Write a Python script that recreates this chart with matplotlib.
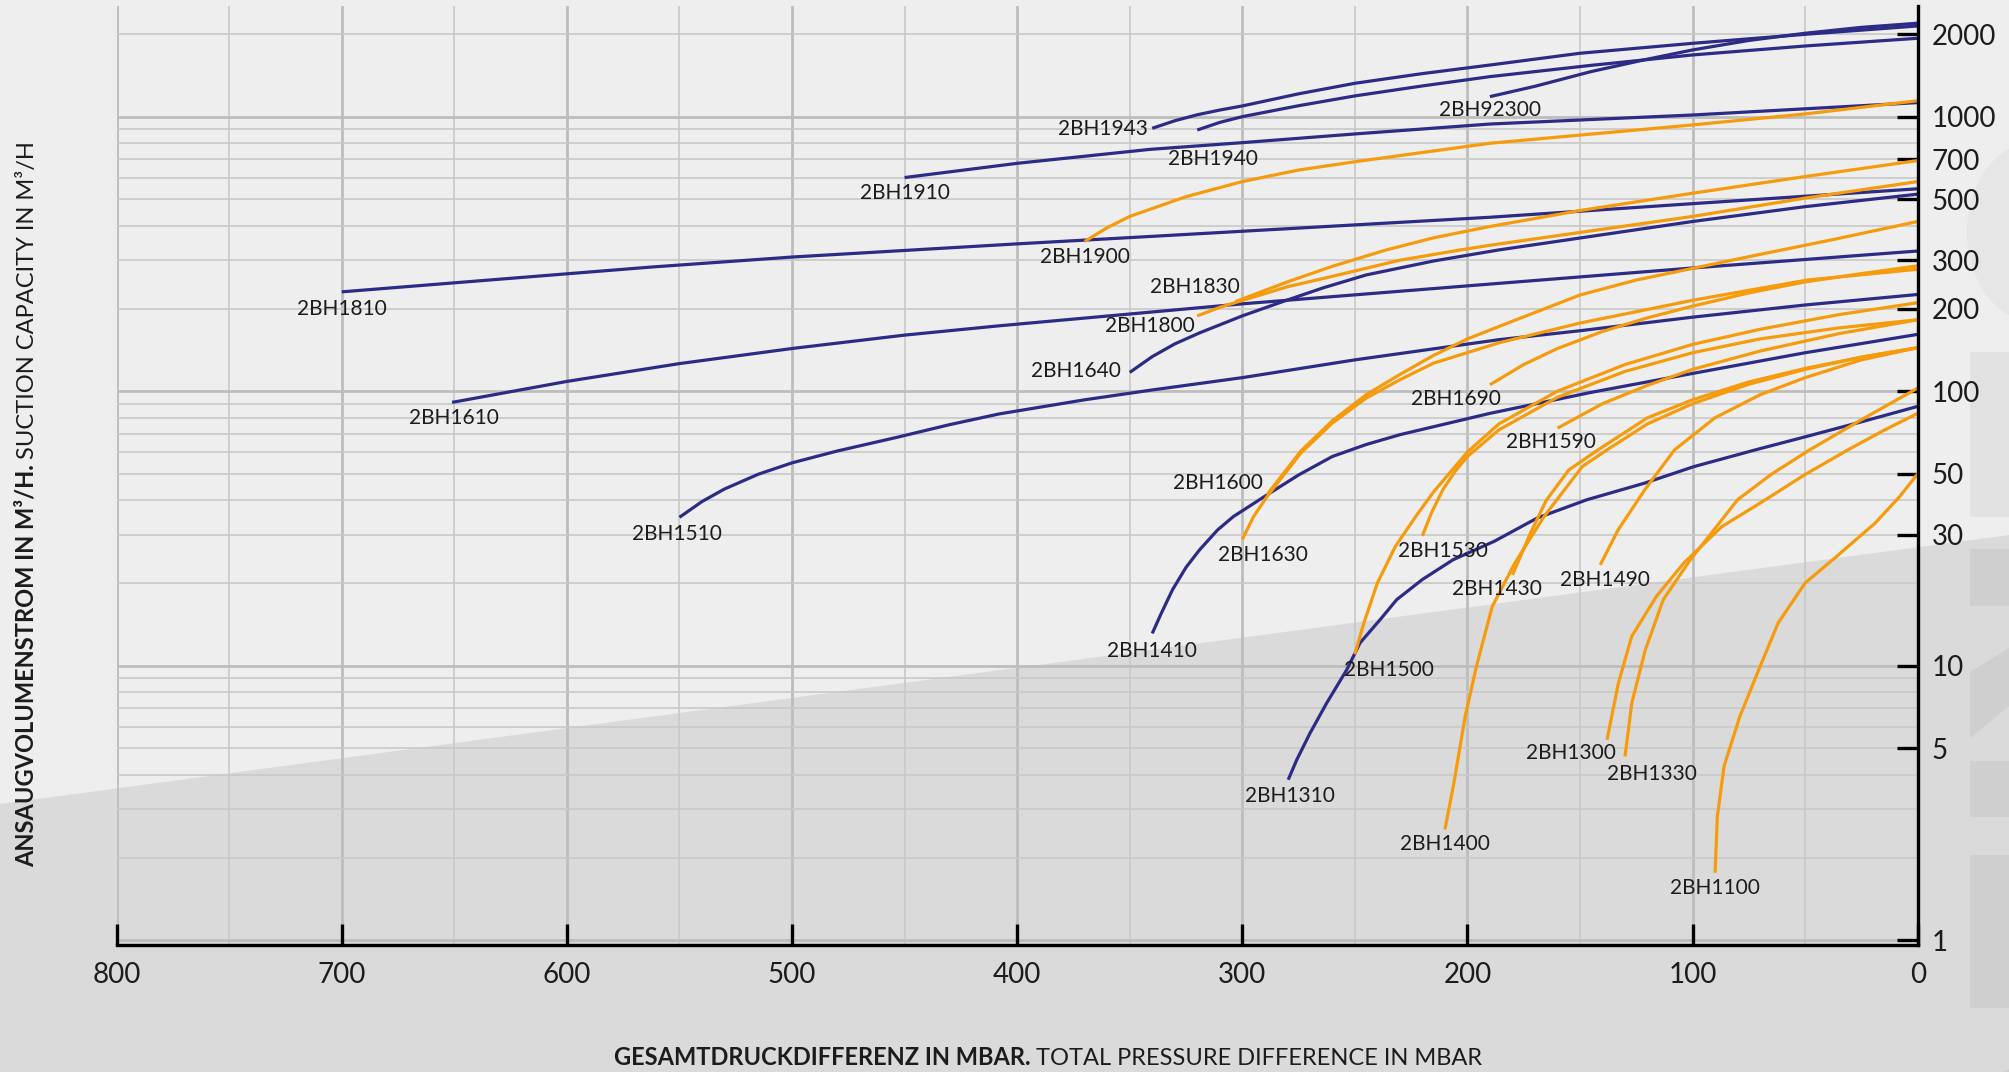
import matplotlib
matplotlib.use('Agg')
import matplotlib.pyplot as plt
from matplotlib.patches import Polygon, Rectangle, Ellipse, Circle

# ---------------- data (pressure difference in mbar, suction capacity m3/h) -------------
x_ticks = [800, 700, 600, 500, 400, 300, 200, 100, 0]
y_ticks = [1, 5, 10, 30, 50, 100, 200, 300, 500, 700, 1000, 2000]
y_tick_labels = ['1', '5', '10', '30', '50', '100', '200', '300', '500', '700', '1000', '2000']

# navy curves
BH92300_p = [190, 170, 145, 120, 100, 75, 50, 25, 0]
BH92300_q = [1183, 1290, 1460, 1620, 1750, 1895, 2013, 2115, 2190]
BH1943_p = [340, 330, 320, 310, 300, 275, 250, 220, 190, 150, 100, 50, 0]
BH1943_q = [907, 966, 1016, 1057, 1094, 1211, 1323, 1435, 1542, 1702, 1850, 1995, 2140]
BH1940_p = [320, 310, 300, 275, 250, 220, 190, 145, 100, 50, 0]
BH1940_q = [894, 953, 1000, 1096, 1190, 1294, 1399, 1538, 1678, 1809, 1930]
BH1910_p = [450, 400, 341, 300, 250, 190, 100, 0]
BH1910_q = [600, 676, 760, 804, 865, 940, 1014, 1125]
BH1810_p = [700, 563, 500, 400, 341, 190, 100, 0]
BH1810_q = [230, 283, 308, 344, 366, 430, 482, 546]
BH1640_p = [350, 340, 330, 319, 300, 282, 264, 245, 215, 186, 100, 50, 0]
BH1640_q = [117, 133.6, 148.6, 163, 188, 212, 238, 265, 298, 327, 415, 470, 522]
BH1610_p = [651, 600, 550, 500, 450, 408, 300, 186, 100, 0]
BH1610_q = [91, 108.5, 126, 143, 160, 173, 208, 247, 281, 324]
BH1510_p = [550, 540, 530, 515, 500, 480, 453, 430, 408, 370, 340, 300, 250, 186, 150, 100, 50, 0]
BH1510_q = [34.7, 39.6, 44, 49.8, 54.8, 60.5, 68, 75.5, 82.6, 93, 101, 112, 130, 154, 166, 186, 206, 225]
BH1410_p = [340, 336, 331, 325, 319, 311, 304, 289, 275, 260, 245, 230, 190, 145, 100, 50, 0]
BH1410_q = [13.1, 15.5, 18.9, 22.8, 26.4, 31.2, 34.9, 41.9, 49.5, 57.8, 63.9, 69.4, 83, 99, 116, 138, 161]
BH1310_p = [279.6, 275.8, 269.9, 262.5, 253.6, 247.7, 238.8, 231.4, 220, 206.4, 188, 169, 147,
            121.4, 99.4, 72.1, 49.3, 25, 0]
BH1310_q = [3.84, 4.54, 5.68, 7.31, 9.66, 12.1, 14.7, 17.4, 20.6, 24.3, 28.4, 34.5, 40.2,
            46.2, 53.1, 61.1, 68.4, 77.3, 88]

# orange curves
BH1900_p = [370, 360, 350, 325, 300, 275, 250, 190, 100, 50, 0]
BH1900_q = [351, 394, 433, 511, 580, 639, 685, 800, 933, 1023, 1143]
BH1830_p = [303, 280, 260, 236, 215, 190, 150, 100, 50, 0]
BH1830_q = [212, 250, 285, 327, 362, 398, 455, 526, 605, 692]
BH1800_p = [320, 310, 300, 280, 260, 230, 203, 190, 100, 50, 0]
BH1800_q = [188, 202, 214, 240, 262, 300, 327, 340, 433, 505, 580]
BH1600_p = [289, 274, 260, 245, 230, 215, 200, 186, 150, 125, 100, 70, 38, 0]
BH1600_q = [42, 60.5, 78, 97, 115, 135, 155, 172, 224, 254, 280, 315, 356, 415]
BH1630_p = [300, 295, 289, 274, 260, 245, 230, 215, 186, 150, 99, 49, 0]
BH1630_q = [28.8, 34.9, 41.3, 59.5, 76.5, 94.3, 110, 126.5, 150, 177, 215, 254, 278]
BH1690_p = [190, 175, 160, 140, 120, 100, 75, 50, 25, 0]
BH1690_q = [105.5, 125, 143, 165, 185, 204, 228, 250, 268, 286]
BH1590_p = [160, 140, 120, 100, 70, 35, 0]
BH1590_q = [73.3, 90, 105, 120, 140, 162, 182]
BH1530_p = [220, 216, 211, 205.5, 200, 186, 160, 130, 100, 70, 35, 0]
BH1530_q = [29.7, 36, 43.6, 51, 57.8, 72.3, 95, 118, 138, 155, 170, 182]
BH1500_p = [250, 246, 240, 232, 223, 215, 200, 186, 160, 130, 100, 70, 35, 0]
BH1500_q = [11, 14.3, 20, 27.2, 34.9, 43, 60, 76, 100, 125, 148, 168, 190, 210]
BH1490_p = [141, 133, 121, 108, 90, 70, 50, 25, 0]
BH1490_q = [23.3, 31.3, 44, 61.1, 80, 97, 112, 130, 144]
BH1430_p = [180, 172, 165, 155, 142, 120, 100, 75, 50, 25, 0]
BH1430_q = [21.4, 30.4, 40, 51.6, 61.1, 80, 93, 108, 121, 133, 144]
BH1400_p = [210, 206, 201, 196, 189, 179, 166, 149, 138, 120, 100, 75, 50, 25, 0]
BH1400_q = [2.53, 3.74, 6.53, 9.93, 16.4, 23.6, 34.9, 53.1, 61.1, 76, 90, 106, 120, 133, 144]
BH1300_p = [138, 133, 127, 116, 104, 87, 70, 50, 31, 15, 0]
BH1300_q = [5.37, 8.6, 12.8, 17.9, 23.6, 32.1, 39.1, 49.7, 61.1, 72, 83]
BH1330_p = [130, 127, 121, 113, 101, 80, 65, 48, 25, 0]
BH1330_q = [4.67, 7.31, 11.4, 17.4, 24.3, 40.2, 49.8, 61.1, 78.7, 102.6]
BH1100_p = [90, 89, 86, 79, 70, 62, 50, 36, 19, 8, 0]
BH1100_q = [1.76, 2.82, 4.3, 6.53, 9.93, 14.3, 20, 25, 33, 41.3, 50]

NAVY = '#2c2b85'
ORANGE = '#f59b0c'

curves = [
    ('2BH92300', BH92300_p, BH92300_q, NAVY),
    ('2BH1943', BH1943_p, BH1943_q, NAVY),
    ('2BH1940', BH1940_p, BH1940_q, NAVY),
    ('2BH1910', BH1910_p, BH1910_q, NAVY),
    ('2BH1810', BH1810_p, BH1810_q, NAVY),
    ('2BH1640', BH1640_p, BH1640_q, NAVY),
    ('2BH1610', BH1610_p, BH1610_q, NAVY),
    ('2BH1510', BH1510_p, BH1510_q, NAVY),
    ('2BH1410', BH1410_p, BH1410_q, NAVY),
    ('2BH1310', BH1310_p, BH1310_q, NAVY),
    ('2BH1900', BH1900_p, BH1900_q, ORANGE),
    ('2BH1830', BH1830_p, BH1830_q, ORANGE),
    ('2BH1800', BH1800_p, BH1800_q, ORANGE),
    ('2BH1600', BH1600_p, BH1600_q, ORANGE),
    ('2BH1630', BH1630_p, BH1630_q, ORANGE),
    ('2BH1690', BH1690_p, BH1690_q, ORANGE),
    ('2BH1590', BH1590_p, BH1590_q, ORANGE),
    ('2BH1530', BH1530_p, BH1530_q, ORANGE),
    ('2BH1500', BH1500_p, BH1500_q, ORANGE),
    ('2BH1490', BH1490_p, BH1490_q, ORANGE),
    ('2BH1430', BH1430_p, BH1430_q, ORANGE),
    ('2BH1400', BH1400_p, BH1400_q, ORANGE),
    ('2BH1300', BH1300_p, BH1300_q, ORANGE),
    ('2BH1330', BH1330_p, BH1330_q, ORANGE),
    ('2BH1100', BH1100_p, BH1100_q, ORANGE),
]

# label placement (layout, data coordinates of label centre)
label_pos = {
    '2BH1943': (362, 898), '2BH1940': (313, 701), '2BH92300': (190, 1055),
    '2BH1910': (450, 525), '2BH1900': (370, 307), '2BH1810': (700, 199),
    '2BH1830': (321, 239), '2BH1800': (341, 172), '2BH1640': (374, 118),
    '2BH1610': (650, 80), '2BH1690': (205, 94), '2BH1590': (163, 65.3),
    '2BH1600': (311, 46.3), '2BH1510': (551, 30.1), '2BH1630': (291, 25.4),
    '2BH1530': (211, 26.2), '2BH1430': (187, 19.0), '2BH1490': (139, 20.5),
    '2BH1410': (340, 11.3), '2BH1500': (235, 9.64), '2BH1300': (154, 4.8),
    '2BH1330': (118, 4.04), '2BH1310': (279, 3.36), '2BH1400': (210, 2.24),
    '2BH1100': (90, 1.55),
}

W, H = 2009, 1072
FONT = ['Lato', 'DejaVu Sans']
TXT = '#1c1c1c'
plt.rcParams['font.family'] = FONT

fig = plt.figure(figsize=(W / 100, H / 100), dpi=100)
fig.patch.set_facecolor('#eeeeee')

def fy(y):
    return 1 - y / H

def fx(x):
    return x / W

# background decoration
fig.patches.append(Polygon([[0, fy(804)], [1, fy(535)], [1, 0], [0, 0]], closed=True,
                           transform=fig.transFigure, facecolor='#dadada', edgecolor='none', zorder=-5))
fig.patches.append(Ellipse((fx(2035), fy(232)), 2 * 68 / W, 2 * 90 / H, transform=fig.transFigure,
                           facecolor='#e6e6e6', edgecolor='none', zorder=-4))
fig.patches.append(Rectangle((fx(1970), fy(517)), 40 / W, 165 / H, transform=fig.transFigure,
                             facecolor='#e2e2e2', edgecolor='none', zorder=-4))
for (y0, y1) in [(549, 606), (761, 817), (855, 1008)]:
    fig.patches.append(Rectangle((fx(1970), fy(y1)), 40 / W, (y1 - y0) / H, transform=fig.transFigure,
                                 facecolor='#cfcfcf', edgecolor='none', zorder=-4))
fig.patches.append(Polygon([[fx(1970), fy(672)], [1, fy(648)], [1, fy(706)], [fx(1970), fy(738)]],
                           closed=True, transform=fig.transFigure, facecolor='#cfcfcf',
                           edgecolor='none', zorder=-4))
fig.patches.append(Circle((fx(2045), fy(1095)), 60 / W, transform=fig.transFigure,
                          facecolor='#cfcfcf', edgecolor='none', zorder=-4))

ax = fig.add_axes([fx(116.6), fy(945), (1917.7 - 116.6) / W, (945 - 6) / H])
ax.set_facecolor('none')
ax.set_yscale('log')
ax.set_xlim(800, 0)
ax.set_ylim(0.96, 2530)

# grid
MAJ = '#bdbdbd'
MIN = '#c8c8c8'
for xv in range(0, 801, 100):
    ax.axvline(xv, color=MAJ, lw=2.0, zorder=1)
for xv in range(50, 800, 100):
    ax.axvline(xv, color=MIN, lw=1.2, zorder=1)
for dec in [1, 10, 100, 1000]:
    ax.axhline(dec, color=MAJ, lw=2.0, zorder=1)
    for k in range(2, 10):
        if dec * k < 2530:
            ax.axhline(dec * k, color=MIN, lw=1.2, zorder=1)

for sp in ['top', 'left']:
    ax.spines[sp].set_visible(False)
for sp in ['bottom', 'right']:
    ax.spines[sp].set_color('black')
    ax.spines[sp].set_linewidth(2.4)
    ax.spines[sp].set_zorder(5)

ax.set_xticks(x_ticks)
ax.set_xticklabels([str(v) for v in x_ticks])
ax.yaxis.tick_right()
ax.set_yticks(y_ticks)
ax.set_yticklabels(y_tick_labels)
ax.minorticks_off()
ax.tick_params(axis='x', direction='in', length=15, width=2.4, color='black', pad=12,
               labelsize=20, labelcolor=TXT)
ax.tick_params(axis='y', direction='in', length=15, width=2.4, color='black', pad=10,
               labelsize=20, labelcolor=TXT, left=False, right=True)

for name, p, q, col in curves:
    ax.plot(p, q, color=col, lw=2.3, solid_capstyle='butt', solid_joinstyle='round', zorder=3)
    lx, ly = label_pos[name]
    ax.text(lx, ly, name, ha='center', va='center', fontsize=15, color=TXT, zorder=4)

# axis titles with bold + regular parts
fig.canvas.draw()
r = fig.canvas.get_renderer()

def htitle(cx, ybase, bold, regular, size=17):
    t1 = fig.text(0, 0, bold, fontsize=size, fontweight='bold', color=TXT, ha='left', va='baseline')
    t2 = fig.text(0, 0, regular, fontsize=size, color=TXT, ha='left', va='baseline')
    w1 = t1.get_window_extent(r).width
    w2 = t2.get_window_extent(r).width
    gap = size * 0.35
    x0 = cx - (w1 + gap + w2) / 2
    t1.set_position((fx(x0), fy(ybase)))
    t2.set_position((fx(x0 + w1 + gap), fy(ybase)))

def vtitle(xbase, cy, bold, regular, size=17):
    t1 = fig.text(0, 0, bold, fontsize=size, fontweight='bold', color=TXT, ha='left', va='baseline',
                  rotation=90, rotation_mode='anchor')
    t2 = fig.text(0, 0, regular, fontsize=size, color=TXT, ha='left', va='baseline',
                  rotation=90, rotation_mode='anchor')
    h1 = t1.get_window_extent(r).height
    h2 = t2.get_window_extent(r).height
    gap = size * 0.35
    y0 = cy + (h1 + gap + h2) / 2
    t1.set_position((fx(xbase), fy(y0)))
    t2.set_position((fx(xbase), fy(y0 - h1 - gap)))

htitle(1048, 1065, 'GESAMTDRUCKDIFFERENZ IN MBAR.', 'TOTAL PRESSURE DIFFERENCE IN MBAR')
vtitle(34, 504, 'ANSAUGVOLUMENSTROM IN M³/H.', 'SUCTION CAPACITY IN M³/H')

fig.savefig('out.png', dpi=100, facecolor=fig.get_facecolor())
